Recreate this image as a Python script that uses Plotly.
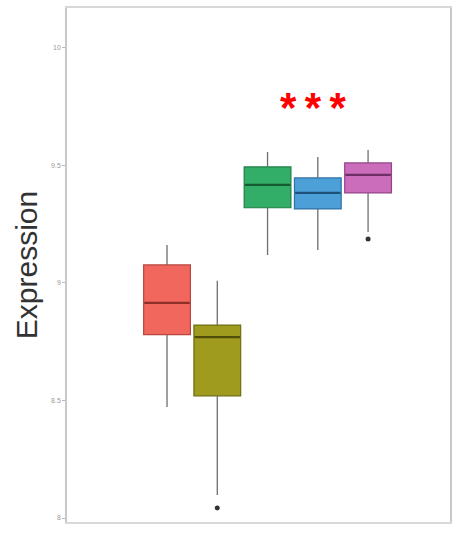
import plotly.graph_objects as go

# Five groups of expression values, summarised as box statistics
groups = ["G1", "G2", "G3", "G4", "G5"]
positions = [1, 2, 3, 4, 5]
q1 = [8.78, 8.52, 9.32, 9.315, 9.383]
median = [8.915, 8.77, 9.417, 9.383, 9.46]
q3 = [9.077, 8.821, 9.494, 9.447, 9.511]
lower_whisker = [8.472, 8.098, 9.119, 9.14, 9.217]
upper_whisker = [9.162, 9.009, 9.557, 9.536, 9.566]
outliers = [[], [8.043], [], [], [9.187]]

fills = ["#F1675E", "#9E9B1F", "#33AE68", "#4D9FD8", "#CB6DBA"]
edges = ["#B8453E", "#6F6D10", "#1F7F47", "#2F72A3", "#94458A"]
medians = ["#8E2F2A", "#4F4D08", "#155C33", "#1F5079", "#6E2F66"]

y_ticks = [8.0, 8.5, 9.0, 9.5, 10.0]
y_tick_text = ["8", "8.5", "9", "9.5", "10"]

fig = go.Figure()

# whiskers drawn in grey beneath the boxes
for i, x in enumerate(positions):
    fig.add_trace(go.Scatter(
        x=[x, x, None, x, x],
        y=[lower_whisker[i], q1[i], None, q3[i], upper_whisker[i]],
        mode="lines", line=dict(color="#6E6E6E", width=1.3),
        hoverinfo="skip", showlegend=False))

for i, x in enumerate(positions):
    fig.add_trace(go.Box(
        x=[x], q1=[q1[i]], median=[median[i]], q3=[q3[i]],
        lowerfence=[q1[i]], upperfence=[q3[i]],
        width=0.93, whiskerwidth=0,
        fillcolor=fills[i], line=dict(color=edges[i], width=1.2),
        name=groups[i], showlegend=False, boxpoints=False))
    # median drawn a touch heavier, as a darker bar across the box
    fig.add_trace(go.Scatter(
        x=[x - 0.45, x + 0.45], y=[median[i], median[i]],
        mode="lines", line=dict(color=medians[i], width=2.2),
        hoverinfo="skip", showlegend=False))
    if outliers[i]:
        fig.add_trace(go.Scatter(
            x=[x] * len(outliers[i]), y=outliers[i], mode="markers",
            marker=dict(color="#333333", size=5),
            hoverinfo="skip", showlegend=False))

fig.add_annotation(x=3.92, y=9.745, text="<b>*\u2009*\u2009*</b>", showarrow=False,
                   font=dict(color="#FF0000", size=42, family="Liberation Sans"))

fig.update_layout(
    width=456, height=533,
    margin=dict(l=67, r=4, t=8, b=11),
    paper_bgcolor="white", plot_bgcolor="white",
    font=dict(family="Liberation Sans"),
    xaxis=dict(range=[-0.99, 6.63], showticklabels=False, ticks="",
               showgrid=False, zeroline=False,
               showline=True, mirror=True, linecolor="#D8D8D8", linewidth=1.5),
    yaxis=dict(range=[7.983, 10.17], tickvals=y_ticks, ticktext=y_tick_text,
               tickfont=dict(size=7, color="#9A9A9A"), ticks="outside",
               ticklen=3, tickcolor="#BBBBBB",
               showgrid=False, zeroline=False,
               showline=True, mirror=True, linecolor="#C8C8C8", linewidth=1.5,
               title=dict(text="Expression", font=dict(size=30, color="#333333"),
                          standoff=5)),
)

fig.write_html("out.html")
